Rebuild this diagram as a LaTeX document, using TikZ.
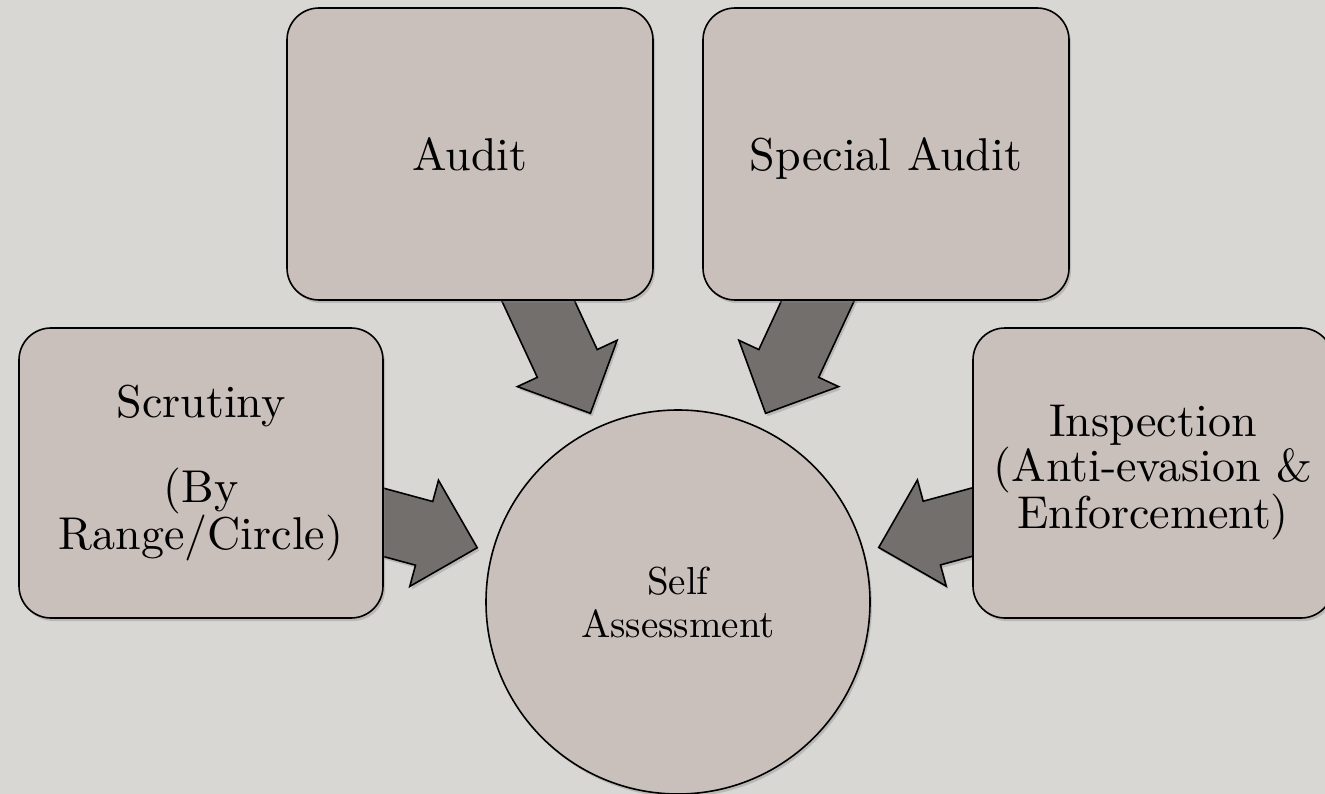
\documentclass[tikz,border=0pt]{standalone}
\usepackage{fontspec}
\setmainfont{lmroman10-regular.otf}
\usetikzlibrary{calc,shadows}

\definecolor{stone}{HTML}{D8D7D4}
\definecolor{boxfill}{HTML}{C9BFBB}
\definecolor{arrowfill}{HTML}{736F6D}

\pgfdeclarelayer{backdrop}
\pgfdeclarelayer{arrows}
\pgfsetlayers{backdrop,arrows,main}

\tikzset{
  softshadow/.style={drop shadow={opacity=0.35, shadow xshift=2pt, shadow yshift=-3pt}},
  box/.style={draw=black, line width=1.6pt, fill=boxfill, rounded corners=32pt,
    minimum width=366pt, minimum height=292pt, inner sep=0pt, align=center,
    font=\fontsize{46}{45}\selectfont, softshadow},
  hub/.style={circle, draw=black, line width=1.6pt, fill=boxfill,
    minimum size=384pt, inner sep=0pt, align=center,
    font=\fontsize{39}{43}\selectfont, softshadow},
  blockarrow/.style={draw=black, line width=1.6pt, fill=arrowfill,
    line join=miter, softshadow}
}

% block arrow from node #1 pointing at the centre of node #2
\newcommand\feedarrow[2]{%
  \path[blockarrow]
    ($(#2.center)!208pt!(#1.center)$) --
    ($(#2.center)!268.7pt!11.81:(#1.center)$) --
    ($(#2.center)!265.06pt!7.15:(#1.center)$) --
    ($(#2.center)!371.5pt!5.10:(#1.center)$) --
    ($(#2.center)!371.5pt!-5.10:(#1.center)$) --
    ($(#2.center)!265.06pt!-7.15:(#1.center)$) --
    ($(#2.center)!268.7pt!-11.81:(#1.center)$) -- cycle;}

\begin{document}
\begin{tikzpicture}[x=1pt,y=-1pt]
  \useasboundingbox (0,0) rectangle (1325,794);
  \clip (0,0) rectangle (1325,794);

  \begin{pgfonlayer}{backdrop}
    \fill[stone] (0,0) rectangle (1325,794);
  \end{pgfonlayer}

  \node[box, text depth=0pt] (audit) at (470,154) {Audit};
  \node[box, text depth=0pt] (special) at (886,154) {Special Audit};
  \node[box, minimum width=364pt, minimum height=290pt] (scrutiny) at (201,473)
    {Scrutiny\\[40pt](By\\Range/Circle)};
  \node[box, minimum width=360pt, minimum height=290pt] (inspection) at (1153,473)
    {Inspection\\(Anti-evasion \&\\Enforcement)};
  \node[hub] (self) at (678,602) {Self\\Assessment};

  \begin{pgfonlayer}{arrows}
    \feedarrow{audit}{self}
    \feedarrow{special}{self}
    \feedarrow{scrutiny}{self}
    \feedarrow{inspection}{self}
  \end{pgfonlayer}
\end{tikzpicture}
\end{document}
